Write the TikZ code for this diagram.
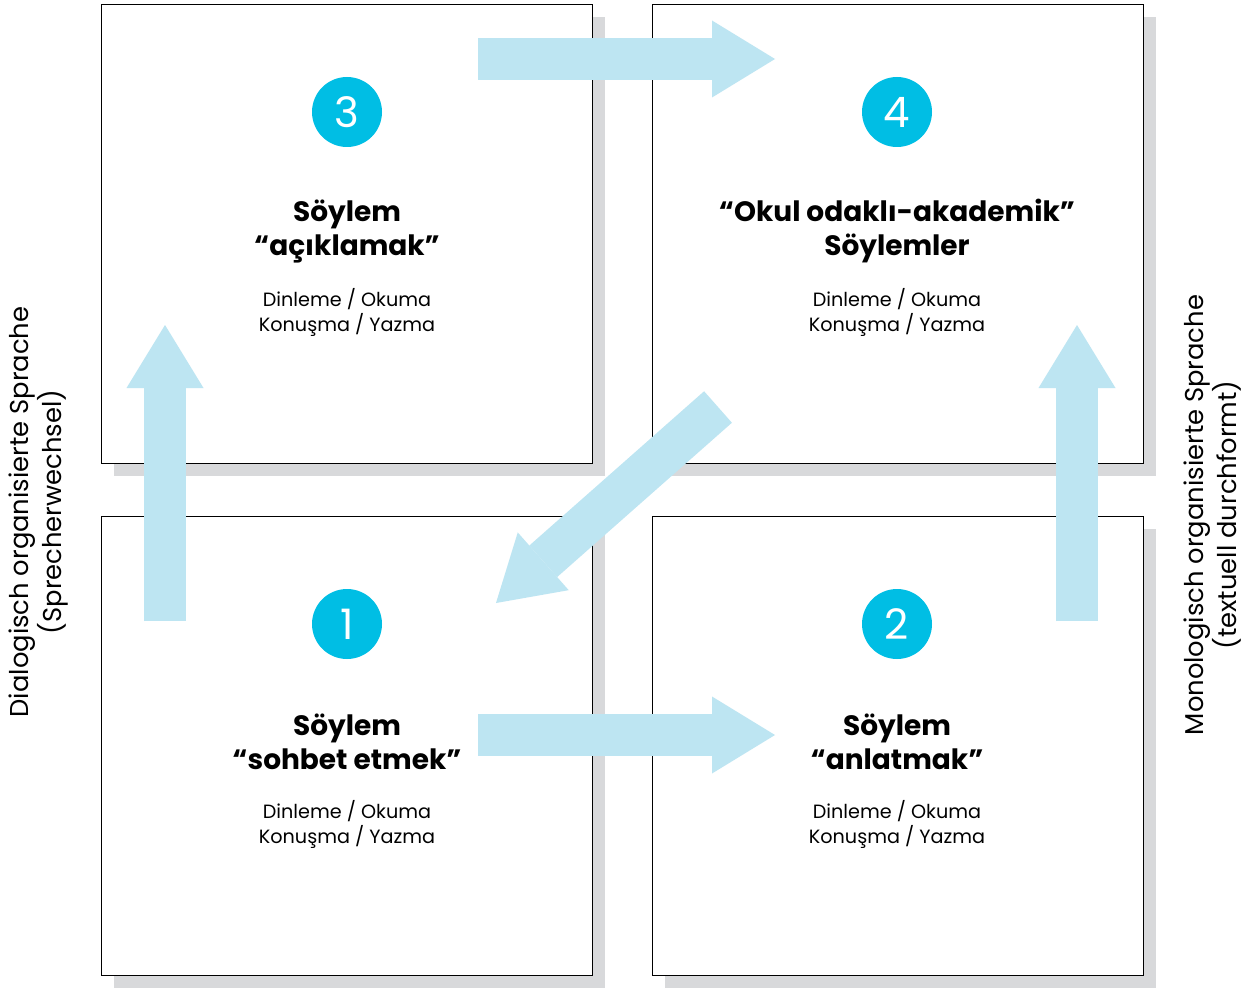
\documentclass[tikz,border=0pt]{standalone}
\usepackage{fontspec}
\setmainfont{Poppins}
\usetikzlibrary{arrows.meta,shadows}
\definecolor{badgecyan}{RGB}{0,190,228}
\definecolor{flowblue}{RGB}{189,229,242}
\definecolor{shadegray}{RGB}{216,217,219}
\tikzstyle{quadrant}=[draw, thin, fill=white, minimum width=245.5pt, minimum height=229.5pt, drop shadow={shadow xshift=6.5pt, shadow yshift=-6.5pt, fill=shadegray, opacity=1}]
\tikzstyle{badge}=[circle, fill=badgecyan, text=white, minimum size=35pt, inner sep=0pt, font=\fontsize{21}{21}\selectfont]
\tikzstyle{title}=[align=center, font=\bfseries\fontsize{14}{17}\selectfont]
\tikzstyle{skills}=[align=center, font=\fontsize{9.6}{12.5}\selectfont]
\tikzstyle{flow}=[draw=flowblue, line width=21pt, -{Triangle[length=31.5pt, width=38.5pt, line width=0pt]}]
\tikzstyle{axis}=[rotate=90, align=center, font=\fontsize{12.9}{14.8}\selectfont]

\begin{document}
\begin{tikzpicture}[x=0.5pt, y=-0.5pt]
                \useasboundingbox (0,0) rectangle (1258,990);
                % four fields
                \node[quadrant] (q3) at (346.5, 233.5) {};
                \node[quadrant] (q4) at (897.5, 233.5) {};
                \node[quadrant] (q1) at (346.5, 745.5) {};
                \node[quadrant] (q2) at (897.5, 745.5) {};
                % arrow ends
                \coordinate (t3) at (478, 59);   \coordinate (h4) at (775, 59);
                \coordinate (t1) at (478, 735);  \coordinate (h2) at (775, 735);
                \coordinate (b1) at (165, 621);  \coordinate (u3) at (165, 325);
                \coordinate (b2) at (1077, 621); \coordinate (u4) at (1077, 325);
                \coordinate (d4) at (718, 407);  \coordinate (d1) at (496, 603);
                \draw[flow] (t3)--(h4);
                \draw[flow] (t1)--(h2);
                \draw[flow] (b1)--(u3);
                \draw[flow] (b2)--(u4);
                \draw[flow] (d4)--(d1);
                % numbers
                \node[badge] (n3) at (347, 112) {3};
                \node[badge] (n4) at (897, 112) {4};
                \node[badge] (n1) at (347, 624) {1};
                \node[badge] (n2) at (897, 624) {2};
                % texts
                \node[title] (s3) at (347, 231) {Söylem\\“açıklamak”};
                \node[title] (s4) at (897, 231) {“Okul odaklı-akademik”\\Söylemler};
                \node[title] (s1) at (347, 742) {Söylem\\“sohbet etmek”};
                \node[title] (s2) at (897, 742) {Söylem\\“anlatmak”};
                \node[skills] (k3) at (347, 312) {Dinleme / Okuma\\Konuşma / Yazma};
                \node[skills] (k4) at (897, 312) {Dinleme / Okuma\\Konuşma / Yazma};
                \node[skills] (k1) at (347, 824) {Dinleme / Okuma\\Konuşma / Yazma};
                \node[skills] (k2) at (897, 824) {Dinleme / Okuma\\Konuşma / Yazma};
                \node[axis] (dl) at (39, 512) {Dialogisch organisierte Sprache\\(Sprecherwechsel)};
                \node[axis] (ml) at (1213, 515) {Monologisch organisierte Sprache\\(textuell durchformt)};
            \end{tikzpicture}
\end{document}
